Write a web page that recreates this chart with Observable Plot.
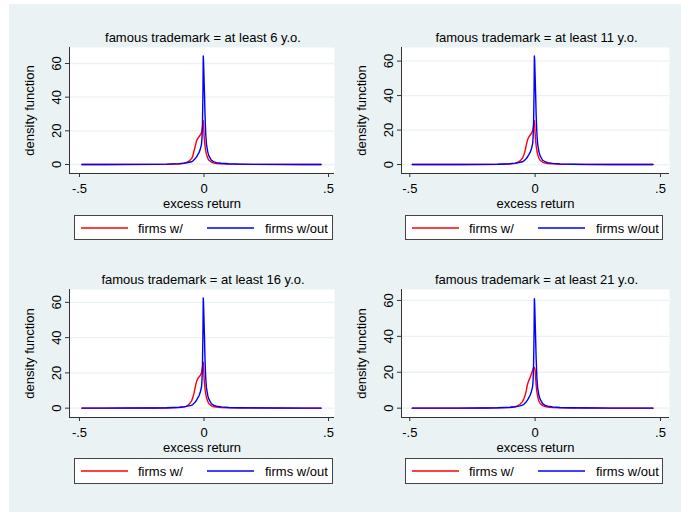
<!DOCTYPE html>
<html>
<head>
<meta charset="utf-8">
<script src="https://cdn.jsdelivr.net/npm/d3@7"></script>
<script src="https://cdn.jsdelivr.net/npm/@observablehq/plot@0.6"></script>
<style>
  html, body { margin: 0; padding: 0; background: #ffffff; }
  #page { position: relative; width: 681px; height: 512px; overflow: hidden; font-family: "Liberation Sans", Arial, sans-serif; }
  #bg { position: absolute; left: 9px; top: 4px; width: 672px; height: 508px; background: #eaf2f3; }
  .panel { position: absolute; }
  .legend { position: absolute; background: #ffffff; border: 1px solid #444; box-sizing: border-box; font-size: 13px; color: #000; }
  .legend svg { position: absolute; overflow: visible; }
  .legend .lab { position: absolute; line-height: 13px; white-space: nowrap; }
</style>
</head>
<body>
<div id="page"><div id="bg"></div></div>
<script>
// ---- data ----
const titles = [
  "famous trademark = at least 6 y.o.",
  "famous trademark = at least 11 y.o.",
  "famous trademark = at least 16 y.o.",
  "famous trademark = at least 21 y.o."
];
const seriesNames = ["firms w/", "firms w/out"];
const xLabel = "excess return";
const yLabel = "density function";
const xTicks = [-0.5, 0, 0.5];
const xTickLabels = ["-.5", "0", ".5"];
const yTicks = [0, 20, 40, 60];
const yTickLabels = ["0", "20", "40", "60"];

const xGrid = [-0.49, -0.4, -0.3, -0.2, -0.15, -0.1, -0.08, -0.07, -0.06, -0.05,
  -0.045, -0.04, -0.035, -0.03, -0.025, -0.02, -0.015, -0.01, -0.008, -0.006,
  -0.004, -0.003, -0.002, 0, 0.002, 0.004, 0.007, 0.01, 0.015, 0.02,
  0.03, 0.04, 0.05, 0.07, 0.1, 0.15, 0.2, 0.3, 0.4, 0.47];

// firms w/ (red)
const with6 = [0, 0, 0, 0.05, 0.1, 0.3, 0.7, 1.2, 2.0, 3.5,
  5, 8, 11, 14, 15.5, 16.5, 17.5, 19, 20.5, 22,
  24.5, 26, 24, 18, 14, 11, 8, 6, 3.8, 2.5,
  1.3, 0.8, 0.6, 0.4, 0.2, 0.1, 0.05, 0, 0, 0];
const with11 = [0, 0, 0, 0.05, 0.1, 0.3, 0.7, 1.2, 2.1, 3.8,
  5.5, 8, 11.5, 14.5, 16, 17, 18, 19.5, 21, 22.5,
  24.5, 25.5, 24, 18, 14, 11, 8, 6, 3.8, 2.5,
  1.3, 0.8, 0.6, 0.4, 0.2, 0.1, 0.05, 0, 0, 0];
const with16 = [0, 0, 0, 0.05, 0.1, 0.3, 0.7, 1.2, 2.2, 4,
  6, 8.5, 12, 15, 16.8, 17.7, 18.5, 20, 21.5, 23,
  25, 26, 24, 18, 14, 11, 8, 6, 3.8, 2.5,
  1.3, 0.8, 0.6, 0.4, 0.2, 0.1, 0.3, 0, 0, 0];
const with21 = [0, 0, 0, 0.1, 0.15, 0.35, 0.8, 1.3, 2.2, 3.8,
  5.2, 7, 10, 13.5, 15.5, 17, 19, 21, 22, 22.5,
  22.7, 22.5, 22.3, 21, 17, 13, 9, 6.5, 4, 2.6,
  1.4, 0.9, 0.6, 0.4, 0.2, 0.1, 0.3, 0, 0, 0];

// firms w/out (blue)
const without6 = [0, 0, 0.05, 0.1, 0.2, 0.5, 0.8, 1.0, 1.3, 1.6,
  2.1, 2.8, 3.5, 4.5, 5.8, 7, 9, 12, 16, 25,
  45, 64.5, 62, 52, 42, 30, 18, 12, 7.5, 5,
  2.5, 1.6, 1.1, 0.7, 0.4, 0.2, 0.1, 0.05, 0, 0];
const without11 = [0, 0, 0.05, 0.1, 0.2, 0.5, 0.8, 1.0, 1.3, 1.6,
  2.1, 2.8, 3.5, 4.5, 5.8, 7, 9, 12, 16, 25,
  45, 63, 61, 51, 41, 29, 18, 12, 7.5, 5,
  2.5, 1.6, 1.1, 0.7, 0.4, 0.2, 0.1, 0.05, 0, 0];
const without16 = [0, 0, 0.05, 0.1, 0.2, 0.5, 0.8, 1.0, 1.3, 1.6,
  2.1, 2.8, 3.5, 4.5, 5.8, 7, 9, 12, 16, 25,
  45, 62.5, 60, 50, 40, 28, 17, 11.5, 7.2, 5,
  2.5, 1.6, 1.1, 0.7, 0.4, 0.2, 0.1, 0.05, 0, 0];
const without21 = [0, 0, 0.05, 0.1, 0.2, 0.5, 0.8, 1.0, 1.3, 1.7,
  2.2, 2.9, 3.6, 4.6, 5.9, 7.2, 9.2, 12, 16, 25,
  44, 61, 59, 49, 39, 28, 17, 11.5, 7.2, 5,
  2.5, 1.6, 1.1, 0.7, 0.4, 0.2, 0.1, 0.05, 0, 0];

const withSeries = [with6, with11, with16, with21];
const withoutSeries = [without6, without11, without16, without21];
const colors = ["#ff0000", "#0000ff"];

// ---- layout ----
const panels = [
  { left: 12,  top: 25,  width: 328, height: 187, mL: 57, mR: 6,  mT: 22, mB: 39, xDom: [-0.54, 0.524], yDom: [-5.35, 69.5],
    legend: { left: 74, top: 215, width: 259, height: 25 } },
  { left: 343, top: 25,  width: 338, height: 187, mL: 58, mR: 12, mT: 22, mB: 39, xDom: [-0.533, 0.536], yDom: [-5.2, 67.9],
    legend: { left: 405, top: 215, width: 258, height: 25 } },
  { left: 12,  top: 267, width: 328, height: 189, mL: 57, mR: 6,  mT: 22, mB: 39, xDom: [-0.54, 0.524], yDom: [-5.3, 67.3],
    legend: { left: 74, top: 458, width: 259, height: 26 } },
  { left: 343, top: 267, width: 338, height: 189, mL: 58, mR: 12, mT: 22, mB: 39, xDom: [-0.533, 0.536], yDom: [-5.2, 66.1],
    legend: { left: 405, top: 458, width: 258, height: 26 } }
];

const page = document.getElementById("page");
const axisColor = "#333";
const svgNS = "http://www.w3.org/2000/svg";

panels.forEach((p, k) => {
  const data = [];
  seriesNames.forEach((s, j) => {
    const vals = j === 0 ? withSeries[k] : withoutSeries[k];
    xGrid.forEach((x, i) => data.push({ series: s, x, y: vals[i] }));
  });

  const chart = Plot.plot({
    width: p.width,
    height: p.height,
    marginLeft: p.mL, marginRight: p.mR, marginTop: p.mT, marginBottom: p.mB,
    x: { domain: p.xDom, axis: null },
    y: { domain: p.yDom, axis: null },
    color: { domain: seriesNames, range: colors },
    style: { fontFamily: "'Liberation Sans', Arial, sans-serif", fontSize: "13px", background: "transparent", color: "#000", overflow: "visible" },
    marks: [
      Plot.frame({ fill: "#ffffff", stroke: "none" }),
      Plot.gridY(yTicks, { stroke: "#eaf2f3", strokeOpacity: 1, strokeWidth: 1.3 }),
      Plot.line(data, { x: "x", y: "y", z: "series", stroke: "series", strokeWidth: 1.4, curve: "linear" }),
      Plot.ruleX([p.xDom[0]], { stroke: axisColor, strokeWidth: 1 }),
      Plot.ruleY([p.yDom[0]], { stroke: axisColor, strokeWidth: 1 }),
      Plot.axisX(xTicks, { tickSize: 4, tickPadding: 6, stroke: axisColor, label: null,
        tickFormat: d => xTickLabels[xTicks.indexOf(d)] }),
      Plot.axisY(yTicks, { tickSize: 4, stroke: axisColor, label: null, tickFormat: () => "" }),
      Plot.text(yTicks, { x: () => p.xDom[0], y: d => d, text: d => yTickLabels[yTicks.indexOf(d)],
        rotate: -90, dx: -9, textAnchor: "middle", lineAnchor: "bottom" }),
      Plot.text([titles[k]], { frameAnchor: "top", dy: -10, dx: 1, lineAnchor: "middle" }),
      Plot.text([xLabel], { frameAnchor: "bottom", dy: 30, lineAnchor: "middle" }),
      Plot.text([yLabel], { frameAnchor: "left", rotate: -90, dx: -40, textAnchor: "middle", lineAnchor: "middle" })
    ]
  });
  const wrap = document.createElement("div");
  wrap.className = "panel";
  wrap.style.left = p.left + "px";
  wrap.style.top = p.top + "px";
  wrap.appendChild(chart);
  page.appendChild(wrap);

  // legend
  const L = p.legend;
  const lg = document.createElement("div");
  lg.className = "legend";
  lg.style.left = L.left + "px";
  lg.style.top = L.top + "px";
  lg.style.width = L.width + "px";
  lg.style.height = L.height + "px";
  const cy = Math.round((L.height - 2) / 2);
  const items = [
    { name: seriesNames[0], color: colors[0], sw: 6, text: 63 },
    { name: seriesNames[1], color: colors[1], sw: 132, text: 190 }
  ];
  items.forEach(it => {
    const s = document.createElementNS(svgNS, "svg");
    s.setAttribute("width", "47");
    s.setAttribute("height", "4");
    s.style.left = it.sw + "px";
    s.style.top = (cy - 2) + "px";
    const ln = document.createElementNS(svgNS, "line");
    ln.setAttribute("x1", "0"); ln.setAttribute("x2", "47");
    ln.setAttribute("y1", "2"); ln.setAttribute("y2", "2");
    ln.setAttribute("stroke", it.color);
    ln.setAttribute("stroke-width", "1.5");
    s.appendChild(ln);
    lg.appendChild(s);
    const t = document.createElement("div");
    t.className = "lab";
    t.style.left = it.text + "px";
    t.style.top = (cy - 6.5) + "px";
    t.textContent = it.name;
    lg.appendChild(t);
  });
  page.appendChild(lg);
});
</script>
</body>
</html>
